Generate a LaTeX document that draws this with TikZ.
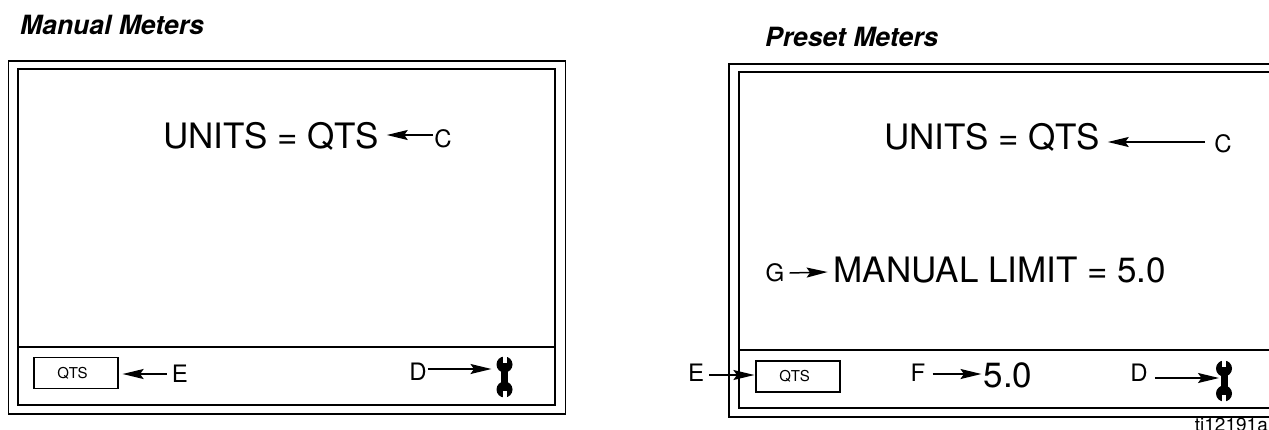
\documentclass[tikz,border=0pt]{standalone}
\usepackage{fontspec}
\setmainfont{TeX Gyre Heros}
\usetikzlibrary{arrows.meta,calc}
\def\wrench(#1,#2){
	\fill (#1-3.5, #2-13) rectangle (#1+3.5, #2+13);
	\fill (#1, #2-12.5) circle (8);
	\fill (#1, #2+12.5) circle (8);
	\fill[white] (#1-2, #2-23) rectangle (#1+2, #2-14);
	\fill[white] (#1-2, #2+14) rectangle (#1+2, #2+23);
}
\tikzset{
	lead/.style={line width=1.5pt, -{Stealth[length=21pt, width=10pt, inset=3.5pt]}},
	big/.style={font=\fontsize{35}{35}\selectfont, inner sep=0pt},
	letter/.style={font=\fontsize{24}{24}\selectfont, inner sep=0pt},
	small/.style={font=\fontsize{15}{15}\selectfont, inner sep=0pt},
	heading/.style={font=\fontsize{26.5}{26.5}\selectfont\bfseries\itshape, inner sep=0pt, anchor=west},
	frame/.style={line width=1.5pt},
	wall/.style={line width=2.2pt}
}
\begin{document}
\begin{tikzpicture}[x=1pt, y=-1pt]
				\useasboundingbox (0, 0) rectangle (1269, 429);
				
				% left display
				\node[heading] (titleL) at (20, 25) {Manual Meters};
				\draw[frame] (8.5, 61) rectangle (565.5, 414);
				\draw[wall] (18, 69) rectangle (555, 405);
				\draw[wall] (18, 347) -- (555, 347);
				
				\node[big] (unitsL) at (271, 136) {UNITS = QTS};
				\node[letter] (cL) at (443, 139) {C};
				\draw[lead] ($(cL.west)+(-1, -4)$) -- ($(unitsL.east)+(8, -1)$);
				
				\node[draw, line width=1.2pt, minimum width=84pt, minimum height=31pt, small] (qtsL) at (76, 373) {\hspace*{-7pt}QTS};
				\node[letter] (eL) at (180, 374) {E};
				\draw[lead] ($(eL.west)+(-5, 0)$) -- ($(qtsL.east)+(4, 1)$);
				
				\node[letter] (dL) at (418, 372) {D};
				\coordinate (wrenchL) at (504.5, 377);
				\wrench(504.5, 377)
				\draw[lead] ($(dL.east)+(1, -3)$) -- ($(wrenchL)+(-13, -8)$);
				
				% right display
				\node[heading] (titleR) at (765, 37) {Preset Meters};
				\draw[frame] (1269, 64) -- (729, 64) -- (729, 417) -- (1269, 417);
				\draw[wall] (1269, 72) -- (739, 72) -- (739, 408) -- (1269, 408);
				\draw[wall] (739, 350) -- (1269, 350);
				
				\node[big] (unitsR) at (992, 137) {UNITS = QTS};
				\node[letter] (cR) at (1223, 144) {C};
				\draw[lead] ($(cR.west)+(-9, -2)$) -- ($(unitsR.east)+(8, 5)$);
				
				\node[letter] (gL) at (775, 273) {G};
				\node[big] (limit) at (1000, 270) {MANUAL LIMIT = 5.0};
				\draw[lead] ($(gL.east)+(5, 0)$) -- ($(limit.west)+(-6, 2)$);
				
				\node[draw, line width=1.2pt, minimum width=84pt, minimum height=31pt, small] (qtsR) at (798, 376.5) {\hspace*{-7pt}QTS};
				\node[letter] (eR) at (696, 373) {E};
				\draw[lead] ($(eR.east)+(5, 2)$) -- ($(qtsR.west)+(-1, -1.5)$);
				
				\node[letter] (fR) at (918, 373) {F};
				\node[big] (five) at (1008, 375) {5.0};
				\draw[lead] ($(fR.east)+(7, 1)$) -- ($(five.west)+(-2, -1)$);
				
				\node[letter] (dR) at (1139, 373) {D};
				\coordinate (wrenchR) at (1224, 381);
				\wrench(1224, 381)
				\draw[lead] ($(dR.east)+(7, 5)$) -- ($(wrenchR)+(-5, -3)$);
				
				\node[font=\fontsize{19}{19}\selectfont, inner sep=0pt, anchor=east] (tag) at (1268, 425) {ti12191a};
			\end{tikzpicture}
\end{document}
